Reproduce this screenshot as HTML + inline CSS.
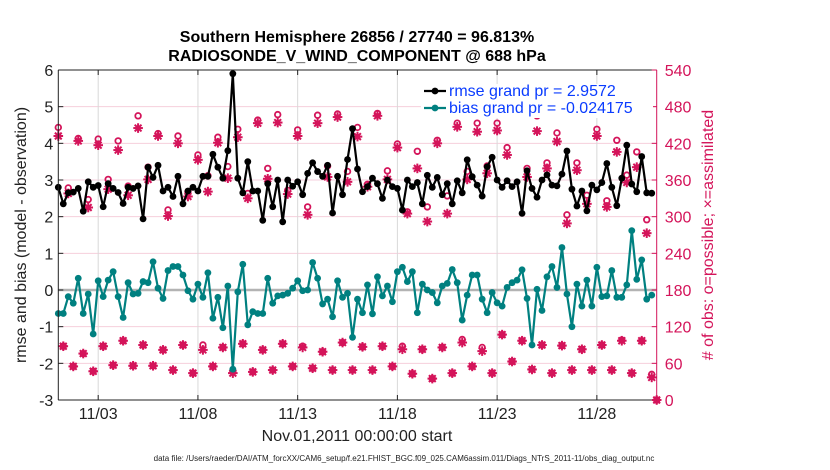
<!DOCTYPE html>
<html><head><meta charset="utf-8">
<style>
html,body{margin:0;padding:0;background:#fff;width:830px;height:470px;overflow:hidden}
svg text{font-family:"Liberation Sans",Arial,sans-serif}
</style></head>
<body>
<svg id="chart" width="830" height="470" viewBox="0 0 830 470" xmlns="http://www.w3.org/2000/svg">
<text x="357" y="42" text-anchor="middle" font-size="16" font-weight="bold">Southern Hemisphere 26856 / 27740 = 96.813%</text>
<text x="357" y="61" text-anchor="middle" font-size="16" font-weight="bold">RADIOSONDE_V_WIND_COMPONENT @ 688 hPa</text>
<g id="grid"></g>
<g id="marks"></g>
<g id="axes"></g>
<text x="357" y="441" text-anchor="middle" font-size="16" fill="#222">Nov.01,2011 00:00:00 start</text>
<text transform="translate(26,235) rotate(-90)" text-anchor="middle" font-size="16" fill="#222">rmse and bias (model - observation)</text>
<text transform="translate(713,235) rotate(-90)" text-anchor="middle" font-size="16" fill="#d4145a"># of obs: o=possible; ×=assimilated</text>
<text x="404" y="461" text-anchor="middle" font-size="8" fill="#222">data file: /Users/raeder/DAI/ATM_forcXX/CAM6_setup/f.e21.FHIST_BGC.f09_025.CAM6assim.011/Diags_NTrS_2011-11/obs_diag_output.nc</text>
<g id="legend"></g>
</svg>
<script>
// ---- data ----
const rmse = [2.8,2.35,2.65,2.67,2.77,2.15,2.95,2.8,2.85,2.27,2.9,2.77,2.66,2.36,2.8,2.77,2.84,1.94,3.35,3.07,
3.4,2.7,2.8,2.55,3.1,2.35,2.7,2.8,2.7,3.1,3.1,3.7,3.35,3.05,3.8,5.9,3.05,2.65,3.5,2.7,
2.7,1.9,2.9,2.27,3.0,1.86,3.0,2.83,2.95,2.6,3.18,3.47,3.23,3.1,3.4,2.1,3.1,2.6,3.56,4.4,
3.3,2.68,2.82,3.05,2.9,2.5,3.0,2.82,2.77,2.18,3.0,2.82,2.93,2.35,3.13,2.8,3.07,2.6,2.9,2.35,
2.98,2.65,3.55,3.09,2.86,2.56,3.36,3.62,3.0,2.8,2.98,2.82,2.95,2.09,3.25,2.77,2.53,3.0,3.14,2.86,
2.84,3.16,3.79,2.75,2.29,2.7,2.16,2.86,2.73,2.93,3.45,2.8,2.3,3.05,3.95,2.89,2.68,3.64,2.65,2.64];
const bias = [-0.64,-0.64,-0.18,-0.36,0.32,-0.64,-0.11,-1.2,0.25,-0.18,0.27,0.5,-0.18,-0.75,0.2,-0.11,-0.09,0.23,0.2,0.77,
0.05,-0.23,0.53,0.64,0.64,0.41,-0.02,-0.25,0.16,-0.2,0.47,-0.77,-0.2,-1.03,0.11,-2.16,-0.05,0.7,-0.95,-0.59,
-0.64,-0.64,0.32,-0.36,-0.16,-0.14,-0.09,0.05,0.25,-0.02,0.0,0.75,0.32,-0.38,-0.25,-0.73,0.25,-0.2,-0.09,-1.29,
-0.25,-0.62,0.14,-0.65,0.36,-0.16,0.11,-0.32,0.5,0.62,0.23,0.5,-0.62,0.16,0.0,-0.07,-0.35,0.11,0.18,0.56,
0.2,-0.82,-0.14,0.41,0.41,-0.25,-0.62,-0.07,-0.35,-0.44,0.07,0.2,0.27,0.55,-0.23,-1.5,0.02,-0.56,0.36,0.64,
0.07,1.16,-0.11,-1.0,0.16,-0.44,0.27,-0.44,0.62,-0.18,-0.16,0.53,-0.2,-0.2,0.14,1.62,0.29,0.82,-0.25,-0.14];
const nPossible = [446,88,347,55,428,76,328,47,427,88,361,57,424,97,350,56,465,90,381,56,
436,82,311,49,432,90,341,44,401,90,367,55,430,86,382,47,443,92,338,46,
458,82,379,49,467,92,343,55,442,88,316,52,466,79,383,49,468,94,374,49,
446,87,353,49,469,88,375,55,419,88,308,43,407,83,316,35,425,86,334,44,
453,99,374,55,453,86,383,44,453,107,413,63,490,97,379,50,465,90,388,44,
437,89,303,49,388,83,335,49,443,90,326,49,425,98,368,44,406,97,295,42,0];
const nUsed = [432,88,338,55,424,76,315,47,417,88,345,57,409,97,335,56,445,90,361,56,
432,82,301,49,420,90,333,44,393,82,341,55,421,86,363,44,430,92,330,46,
453,82,362,49,454,92,337,55,432,86,303,52,453,79,365,49,463,94,357,49,
431,87,349,49,465,88,361,55,413,83,305,43,379,83,292,35,420,86,305,44,
447,94,361,55,439,80,371,44,441,107,401,63,480,97,365,50,440,90,379,44,
423,89,289,49,376,83,321,49,432,90,316,49,406,97,356,44,381,97,273,37,0];
const xTickDays = [2,7,12,17,22,27];
const xTickLabels = ["11/03","11/08","11/13","11/18","11/23","11/28"];
const yTicksLeft = [-3,-2,-1,0,1,2,3,4,5,6];
const yTicksRight = [0,60,120,180,240,300,360,420,480,540];

// ---- scales ----
const X0=58.3, X1=656.7, Y0=400, Y1=70;
const DAYS=30;
const xs = d => X0 + d*(X1-X0)/DAYS;
const ys = v => Y0 - (v+3)*(Y0-Y1)/9;
const yc = c => Y0 - c*(Y0-Y1)/540;
const NS='http://www.w3.org/2000/svg';
function mk(tag, attrs, parent){const e=document.createElementNS(NS,tag);for(const k in attrs)e.setAttribute(k,attrs[k]);parent.appendChild(e);return e;}
const grid=document.getElementById('grid'), marks=document.getElementById('marks'), axes=document.getElementById('axes');
const PINK='#d4145a', TEAL='#008080';

// gridlines
yTicksRight.forEach(c=>{ if(c===0||c===540||c===180) return;
  const l=mk('line',{x1:X0,x2:X1,y1:yc(c),y2:yc(c),stroke:'#f6cfdc','stroke-width':1},grid);
   
});
xTickDays.forEach(d=>{
  const l=mk('line',{x1:xs(d),x2:xs(d),y1:Y1,y2:Y0,stroke:'#d9d9d9','stroke-width':1},grid);
   
});
const z=mk('line',{x1:X0,x2:X1,y1:ys(0),y2:ys(0),stroke:'#b3b3b3','stroke-width':2.5},grid);
 

// counts
function star(cx,cy,parent){
  const g=mk('g',{stroke:PINK,'stroke-width':2},parent);
  const r=4.8;
  for(let a=0;a<4;a++){const t=a*Math.PI/4;mk('line',{x1:cx-r*Math.cos(t),y1:cy-r*Math.sin(t),x2:cx+r*Math.cos(t),y2:cy+r*Math.sin(t)},g);}
  mk('circle',{cx:cx,cy:cy,r:2.8,fill:PINK,stroke:'none'},g);
  return g;
}
nPossible.forEach((c,i)=>{
  const o=mk('circle',{cx:xs(i/4),cy:yc(c),r:2.8,fill:'none',stroke:PINK,'stroke-width':1.8},marks);
   
});
nUsed.forEach((c,i)=>{
  const s=star(xs(i/4),yc(c),marks);
   
});

// series
function series(vals,color,name){
  const pts=vals.map((v,i)=>xs(i/4).toFixed(1)+','+ys(v).toFixed(1)).join(' ');
  const pl=mk('polyline',{points:pts,fill:'none',stroke:color,'stroke-width':2.2,'stroke-linejoin':'round'},marks);
   
  vals.forEach((v,i)=>{
    const c=mk('circle',{cx:xs(i/4),cy:ys(v),r:3.4,fill:color},marks);
     
  });
}
series(rmse,'#000','rmse');
series(bias,TEAL,'bias');

// axes box
const bl=mk('line',{x1:X0,x2:X1,y1:Y0,y2:Y0,stroke:'#222','stroke-width':1},axes);
 
const tl=mk('line',{x1:X0,x2:X1,y1:Y1,y2:Y1,stroke:'#222','stroke-width':1},axes);
 
const ll=mk('line',{x1:X0,x2:X0,y1:Y1,y2:Y0,stroke:'#222','stroke-width':1},axes);
 
const rl=mk('line',{x1:X1,x2:X1,y1:Y1,y2:Y0,stroke:PINK,'stroke-width':1},axes);
 

xTickDays.forEach((d,k)=>{
  mk('line',{x1:xs(d),x2:xs(d),y1:Y0,y2:Y0-5,stroke:'#222'},axes);
  mk('line',{x1:xs(d),x2:xs(d),y1:Y1,y2:Y1+5,stroke:'#222'},axes);
  const t=mk('text',{x:xs(d),y:419,'text-anchor':'middle','font-size':16,fill:'#222'},axes);
  t.textContent=xTickLabels[k];
   
});
yTicksLeft.forEach(v=>{
  mk('line',{x1:X0,x2:X0+5,y1:ys(v),y2:ys(v),stroke:'#222'},axes);
  const t=mk('text',{x:X0-5,y:ys(v)+6,'text-anchor':'end','font-size':16,fill:'#222'},axes);
  t.textContent=v;
   
});
yTicksRight.forEach(c=>{
  mk('line',{x1:X1,x2:X1-5,y1:yc(c),y2:yc(c),stroke:PINK},axes);
  const t=mk('text',{x:X1+8,y:yc(c)+6,'text-anchor':'start','font-size':16,fill:PINK},axes);
  t.textContent=c;
   
});

// legend
const lg=document.getElementById('legend');
mk('rect',{x:421,y:84,width:232,height:34,fill:'#fff'},lg);
[['#000','rmse grand pr = 2.9572',96],[TEAL,'bias grand pr = -0.024175',113]].forEach(([col,txt,y])=>{
  const ln=mk('line',{x1:424,x2:446,y1:y-5,y2:y-5,stroke:col,'stroke-width':2.2},lg);
   
  mk('circle',{cx:435,cy:y-5,r:3.4,fill:col},lg);
  const t=mk('text',{x:449,y:y,'font-size':16,fill:'#0a3cff'},lg);
  t.textContent=txt;
   
});
</script>
</body></html>
